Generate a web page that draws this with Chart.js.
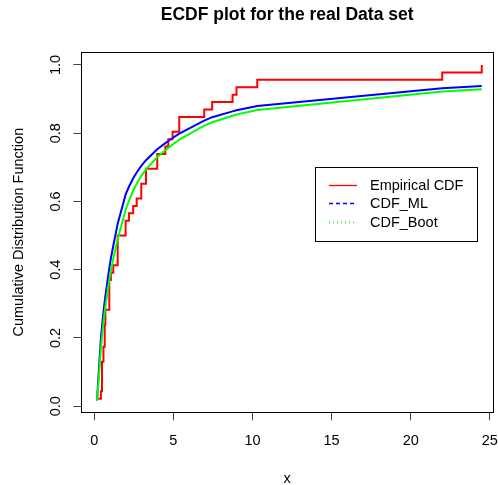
<!DOCTYPE html>
<html>
<head>
<meta charset="UTF-8">
<title>ECDF plot for the real Data set</title>
<script src="https://cdn.jsdelivr.net/npm/chart.js@4"></script>
<style>
  html, body { margin: 0; padding: 0; background: #fff; }
  #chart { display: block; }
</style>
</head>
<body>
<canvas id="chart" width="498" height="485"></canvas>
<script>
// Datos
const ecdfX = [0.25, 0.42, 0.49, 0.58, 0.66, 0.70, 0.95, 1.05, 1.2, 1.48, 1.98, 2.19, 2.46, 2.68, 2.97, 3.27, 3.98, 4.49, 4.68, 4.95, 5.37, 6.95, 7.45, 8.74, 8.99, 10.3, 21.99, 24.49];
const ecdfCount = [1, 2, 6, 8, 11, 13, 17, 18, 19, 23, 25, 26, 27, 28, 30, 32, 34, 35, 36, 37, 39, 40, 41, 42, 43, 44, 45, 46];
const nObs = 46;

const fitX = [0.17, 0.25, 0.42, 0.49, 0.58, 0.68, 0.95, 1.05, 1.2, 1.48, 1.98, 2.19, 2.46, 2.68, 2.97, 3.27, 3.98, 4.49, 4.68, 4.95, 5.37, 6.95, 7.45, 8.74, 8.99, 10.3, 21.99, 24.49];
const cdfML = [0.015, 0.075, 0.20, 0.235, 0.275, 0.315, 0.405, 0.433, 0.47, 0.535, 0.62, 0.643, 0.668, 0.685, 0.704, 0.721, 0.753, 0.771, 0.777, 0.786, 0.799, 0.837, 0.847, 0.864, 0.867, 0.880, 0.932, 0.938];
const cdfBoot = [0.015, 0.06, 0.17, 0.205, 0.245, 0.285, 0.37, 0.397, 0.432, 0.49, 0.575, 0.602, 0.632, 0.652, 0.675, 0.694, 0.73, 0.75, 0.757, 0.767, 0.781, 0.822, 0.832, 0.851, 0.855, 0.868, 0.922, 0.929];

const xTicks = [0, 5, 10, 15, 20, 25];
const yTicks = [0, 0.2, 0.4, 0.6, 0.8, 1.0];

const seriesNames = ['Empirical CDF', 'CDF_ML', 'CDF_Boot'];
const seriesColors = ['#ff0000', '#0000ff', '#00ff00'];
const legendDash = [[], [4, 3], [1, 3]];

const FONT = 'Liberation Sans, Arial, Helvetica, sans-serif';
Chart.defaults.font.family = FONT;
Chart.defaults.color = '#000';

function pts(xs, ys) {
  return xs.map((x, i) => ({ x: x, y: ys[i] }));
}

// Caja, titulo y leyenda al estilo R
const rStyle = {
  id: 'rStyle',
  afterDraw(chart) {
    const ctx = chart.ctx;
    const a = chart.chartArea;
    ctx.save();
    ctx.strokeStyle = '#000';
    ctx.lineWidth = 1;
    ctx.strokeRect(Math.round(a.left) + 0.5, Math.round(a.top) + 0.5,
      Math.round(a.right - a.left), Math.round(a.bottom - a.top));

    ctx.fillStyle = '#000';
    ctx.font = 'bold 17.5px ' + FONT;
    ctx.textAlign = 'center';
    ctx.textBaseline = 'middle';
    ctx.fillText('ECDF plot for the real Data set', (a.left + a.right) / 2, 15);

    // leyenda
    const bx = 315, by = 167, bw = 162, bh = 74;
    ctx.fillStyle = '#fff';
    ctx.fillRect(bx, by, bw, bh);
    ctx.strokeStyle = '#000';
    ctx.strokeRect(bx + 0.5, by + 0.5, bw, bh);
    ctx.font = '14.5px ' + FONT;
    ctx.textAlign = 'left';
    seriesNames.forEach((name, i) => {
      const y = Math.round(185 + i * 18.4);
      ctx.save();
      ctx.globalAlpha = 1;
      ctx.lineWidth = 1.3;
      ctx.strokeStyle = seriesColors[i];
      ctx.setLineDash(legendDash[i]);
      ctx.beginPath();
      ctx.moveTo(329, y + 0.5);
      ctx.lineTo(357, y + 0.5);
      ctx.stroke();
      ctx.restore();
      ctx.fillStyle = '#000';
      ctx.fillText(name, 370, y + 1);
    });
    ctx.restore();
  }
};

new Chart(document.getElementById('chart'), {
  type: 'line',
  data: {
    datasets: [
      {
        label: seriesNames[0],
        data: ecdfX.map((x, i) => ({ x: x, y: ecdfCount[i] / nObs })),
        borderColor: seriesColors[0],
        borderWidth: 2,
        stepped: 'before',
        pointRadius: 0,
        order: 3
      },
      {
        label: seriesNames[1],
        data: pts(fitX, cdfML),
        borderColor: seriesColors[1],
        borderWidth: 2,
        pointRadius: 0,
        order: 2
      },
      {
        label: seriesNames[2],
        data: pts(fitX, cdfBoot),
        borderColor: seriesColors[2],
        borderWidth: 2,
        pointRadius: 0,
        order: 1
      }
    ]
  },
  options: {
    responsive: false,
    animation: false,
    devicePixelRatio: 1,
    layout: { padding: { top: 52, right: 5, left: 0, bottom: 0 } },
    plugins: {
      legend: { display: false },
      tooltip: { enabled: false }
    },
    scales: {
      x: {
        type: 'linear',
        min: -0.82,
        max: 25.2,
        afterBuildTicks: s => { s.ticks = xTicks.map(v => ({ value: v })); },
        afterFit: s => { s.height = 72.7; s.paddingLeft = 0; s.paddingRight = 0; },
        border: { display: false },
        grid: { drawOnChartArea: false, drawTicks: true, tickLength: 8, color: '#444' },
        ticks: { font: { size: 14.5 }, padding: 12, maxRotation: 0, color: '#000' },
        title: { display: true, text: 'x', font: { size: 14.5 }, padding: { top: 0, bottom: -3 }, color: '#000' }
      },
      y: {
        type: 'linear',
        min: -0.018,
        max: 1.038,
        afterBuildTicks: s => { s.ticks = yTicks.map(v => ({ value: v })); },
        afterFit: s => { s.width = 81.3; s.paddingTop = 0; s.paddingBottom = 0; },
        border: { display: false },
        grid: { drawOnChartArea: false, drawTicks: true, tickLength: 8, color: '#444' },
        ticks: {
          font: { size: 14.5 },
          padding: 7,
          minRotation: 90,
          maxRotation: 90,
          crossAlign: 'center',
          color: '#000',
          callback: v => v.toFixed(1)
        },
        title: { display: true, text: 'Cumulative Distribution Function', font: { size: 14.5 }, padding: { top: 10 }, color: '#000' }
      }
    }
  },
  plugins: [rStyle]
});
</script>
</body>
</html>
